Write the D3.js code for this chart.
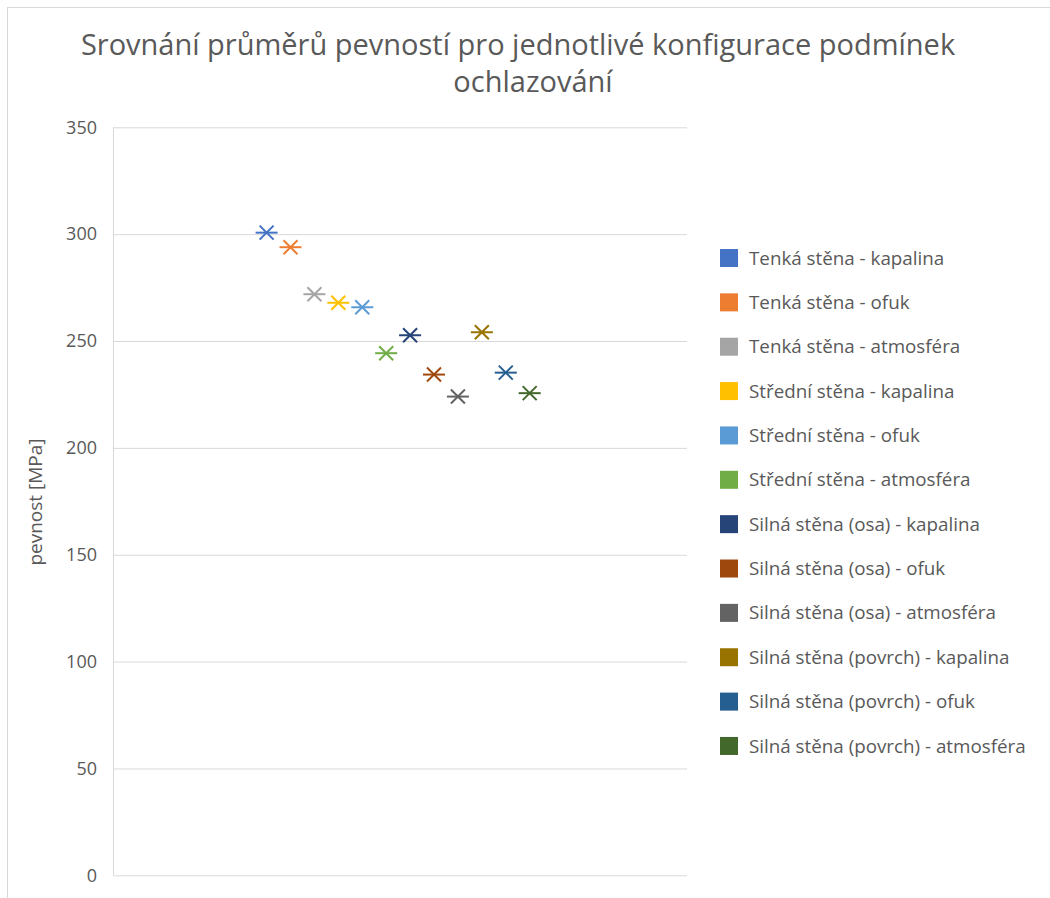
<!DOCTYPE html>
<html>
<head>
<meta charset="utf-8">
<script src="https://cdn.jsdelivr.net/npm/d3@7"></script>
<style>
  html, body { margin: 0; padding: 0; background: #fff; }
  svg { display: block; }
  text { font-family: "Open Sans", "Noto Sans", sans-serif; fill: #595959; }
</style>
</head>
<body>
<svg id="chart" width="1050" height="898"></svg>
<script>
// Průměrné pevnosti pro jednotlivé konfigurace ochlazování
const seriesNames = [
  "Tenká stěna - kapalina",
  "Tenká stěna - ofuk",
  "Tenká stěna - atmosféra",
  "Střední stěna - kapalina",
  "Střední stěna - ofuk",
  "Střední stěna - atmosféra",
  "Silná stěna (osa) - kapalina",
  "Silná stěna (osa) - ofuk",
  "Silná stěna (osa) - atmosféra",
  "Silná stěna (povrch) - kapalina",
  "Silná stěna (povrch) - ofuk",
  "Silná stěna (povrch) - atmosféra"
];
const meanStrength = [300.7, 293.9, 271.9, 267.9, 265.8, 244.3, 252.7, 234.3, 224.0, 254.1, 235.2, 225.6];
const seriesColors = [
  "#4472C4", "#ED7D31", "#A5A5A5", "#FFC000", "#5B9BD5", "#70AD47",
  "#264478", "#9E480E", "#636363", "#997300", "#255E91", "#43682B"
];
const yTicks = [0, 50, 100, 150, 200, 250, 300, 350];
const titleLines = ["Srovnání průměrů pevností pro jednotlivé konfigurace podmínek", "ochlazování"];
const yAxisTitle = "pevnost [MPa]";

const svg = d3.select("#chart");

// chart frame
svg.append("rect")
  .attr("x", 7.5).attr("y", 7.5)
  .attr("width", 1100).attr("height", 1000)
  .attr("fill", "none").attr("stroke", "#d9d9d9").attr("stroke-width", 1);

const plot = { left: 113, right: 687, top: 127.3, bottom: 875.3 };

const x = d3.scalePoint()
  .domain(seriesNames)
  .range([plot.left, plot.right])
  .padding(6.5)
  .align(0.494);

const y = d3.scaleLinear()
  .domain([0, 350])
  .range([plot.bottom, plot.top]);

// title
svg.append("text")
  .attr("x", 518).attr("y", 55)
  .attr("text-anchor", "middle")
  .style("font-size", "29px")
  .text(titleLines[0]);
svg.append("text")
  .attr("x", 533).attr("y", 92)
  .attr("text-anchor", "middle")
  .style("font-size", "29px")
  .text(titleLines[1]);

// horizontal gridlines and value axis
const yAxis = d3.axisLeft(y)
  .tickValues(yTicks)
  .tickSize(-(plot.right - plot.left))
  .tickPadding(16)
  .tickFormat(d3.format("d"));

const gAxis = svg.append("g")
  .attr("transform", `translate(${plot.left},0)`)
  .call(yAxis);
gAxis.select(".domain").attr("stroke", "#d9d9d9").attr("d", `M0.5,${plot.top}V${plot.bottom}`);
gAxis.selectAll(".tick line").attr("stroke", "#d9d9d9").attr("stroke-width", 1);
gAxis.selectAll(".tick text")
  .style("font-size", "18px")
  .style("font-family", "'Open Sans', sans-serif")
  .attr("fill", "#595959");

// axis title
svg.append("text")
  .attr("transform", `translate(42,502) rotate(-90)`)
  .attr("text-anchor", "middle")
  .style("font-size", "19px")
  .text(yAxisTitle);

// star markers
const hx = 11, dx = 7;
const marks = svg.append("g");
seriesNames.forEach((name, i) => {
  const cx = x(name), cy = y(meanStrength[i]);
  const g = marks.append("g")
    .attr("transform", `translate(${cx},${cy})`)
    .attr("stroke", seriesColors[i])
    .attr("stroke-width", 2)
    .attr("stroke-linecap", "butt");
  g.append("line").attr("x1", -hx).attr("x2", hx).attr("y1", 0).attr("y2", 0);
  g.append("line").attr("x1", -dx).attr("x2", dx).attr("y1", -dx).attr("y2", dx);
  g.append("line").attr("x1", -dx).attr("x2", dx).attr("y1", dx).attr("y2", -dx);
});

// legend
const legendTop = 258, legendStep = 44.36;
const legend = svg.append("g");
seriesNames.forEach((name, i) => {
  const cy = legendTop + i * legendStep;
  legend.append("rect")
    .attr("x", 720).attr("y", cy - 9)
    .attr("width", 18).attr("height", 18)
    .attr("fill", seriesColors[i]);
  legend.append("text")
    .attr("x", 749).attr("y", cy)
    .attr("dy", "0.35em")
    .style("font-size", "18.8px")
    .text(name);
});
</script>
</body>
</html>
